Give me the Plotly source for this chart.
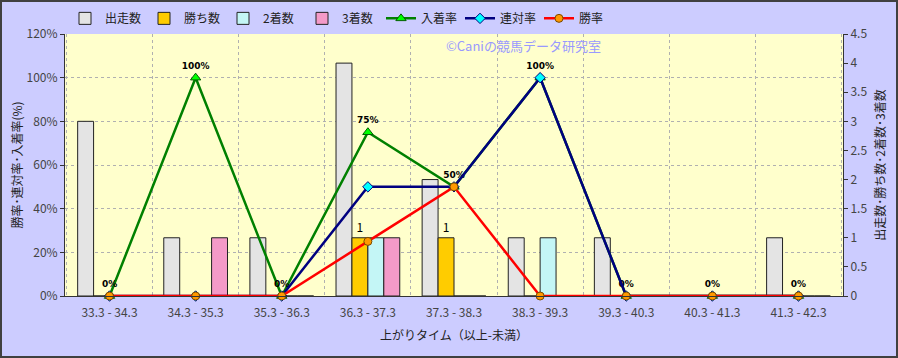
import plotly.graph_objects as go

categories = ["33.3 - 34.3", "34.3 - 35.3", "35.3 - 36.3", "36.3 - 37.3", "37.3 - 38.3",
              "38.3 - 39.3", "39.3 - 40.3", "40.3 - 41.3", "41.3 - 42.3"]
runs = [3, 1, 1, 4, 2, 1, 1, 0, 1]
wins = [0, 0, 0, 1, 1, 0, 0, 0, 0]
seconds = [0, 0, 0, 1, 0, 1, 0, 0, 0]
thirds = [0, 1, 0, 1, 0, 0, 0, 0, 0]
place_rate = [0, 1.00, 0, 0.75, 0.50, 1.00, 0, 0, 0]
quinella_rate = [0, 0, 0, 0.50, 0.50, 1.00, 0, 0, 0]
win_rate = [0, 0, 0, 0.25, 0.50, 0, 0, 0, 0]

FONT = "Noto Sans CJK JP"
fig = go.Figure()

bar_specs = [
    ("出走数", runs, "#E4E4E4"),
    ("勝ち数", wins, "#FFCC00"),
    ("2着数", seconds, "#C4F6F6"),
    ("3着数", thirds, "#F49AC8"),
]
for name, vals, color in bar_specs:
    txt = [str(v) if (name == "勝ち数" and v) else "" for v in vals]
    fig.add_trace(go.Bar(
        x=categories, y=vals, name=name, yaxis="y",
        marker=dict(color=color, line=dict(color="#222222", width=1)),
        text=txt, textposition="outside", cliponaxis=False,
        textfont=dict(family=FONT, size=12, color="#000000"),
    ))

fig.add_trace(go.Scatter(
    x=categories, y=place_rate, name="入着率", yaxis="y2",
    mode="lines+markers+text",
    line=dict(color="#008000", width=2.5),
    marker=dict(symbol="triangle-up", size=9, color="#00FF00", line=dict(color="#006000", width=1)),
    text=[f"<b>{round(v*100)}%</b>" for v in place_rate], textposition="top center",
    textfont=dict(family="DejaVu Sans", size=9, color="#000000"),
    cliponaxis=False,
))
fig.add_trace(go.Scatter(
    x=categories, y=quinella_rate, name="連対率", yaxis="y2",
    mode="lines+markers",
    line=dict(color="#000080", width=2.5),
    marker=dict(symbol="diamond", size=8, color="#00FFFF", line=dict(color="#000080", width=1)),
    cliponaxis=False,
))
fig.add_trace(go.Scatter(
    x=categories, y=win_rate, name="勝率", yaxis="y2",
    mode="lines+markers",
    line=dict(color="#FF0000", width=2.5),
    marker=dict(symbol="circle", size=8, color="#FF9900", line=dict(color="#7A4A00", width=1)),
    cliponaxis=False,
))

axis_font = dict(family=FONT, size=12, color="#444444")
fig.update_layout(
    width=898, height=358,
    margin=dict(l=65, r=55, t=34, b=62, autoexpand=False),
    paper_bgcolor="#CCCCFF",
    plot_bgcolor="#FFFFCC",
    barmode="group", bargap=0.26, bargroupgap=0,
    font=dict(family=FONT, size=11, color="#222222"),
    showlegend=True,
    legend=dict(orientation="h", x=0.0, y=1.115, xanchor="left", yanchor="top",
                font=dict(family=FONT, size=12, color="#222222"),
                bgcolor="rgba(0,0,0,0)", itemwidth=30, tracegroupgap=0,
                entrywidth=34, entrywidthmode="pixels"),
    xaxis=dict(
        type="category", tickson="boundaries",
        showgrid=True, gridcolor="#B0B0B0", griddash="dot", gridwidth=1,
        showline=True, linecolor="#333333", linewidth=1,
        ticks="", tickfont=axis_font, ticklabelstandoff=6,
        title=dict(text="上がりタイム（以上-未満）", font=dict(family=FONT, size=12, color="#222222"), standoff=12),
    ),
    yaxis=dict(
        side="right", range=[0, 4.5], dtick=0.5,
        showgrid=False, zeroline=False,
        showline=True, linecolor="#333333", linewidth=1,
        ticks="outside", ticklen=4, tickcolor="#333333", tickfont=axis_font,
        title=dict(text="出走数･勝ち数･2着数･3着数", font=dict(family=FONT, size=12, color="#222222"), standoff=10),
    ),
    yaxis2=dict(
        side="left", overlaying="y", range=[0, 1.2], dtick=0.2, tickformat=".0%",
        showgrid=True, gridcolor="#B0B0B0", griddash="dot", gridwidth=1, zeroline=False,
        showline=True, linecolor="#333333", linewidth=1,
        ticks="outside", ticklen=4, tickcolor="#333333", tickfont=axis_font,
        title=dict(text="勝率･連対率･入着率(%)", font=dict(family=FONT, size=12, color="#222222"), standoff=1),
    ),
)

fig.add_annotation(
    text="©Caniの競馬データ研究室", xref="paper", yref="paper",
    x=0.487, y=0.955, xanchor="left", yanchor="middle", showarrow=False,
    font=dict(family=FONT, size=13, color="#9999FF"),
)

fig.add_shape(type="rect", xref="paper", yref="paper",
              x0=-64/778, x1=1+54/778, y0=-61/262, y1=1+33/262,
              line=dict(color="#404040", width=2), layer="above")

fig.write_html("out.html", config={"displayModeBar": False},
               post_script="document.body.style.margin='0';document.body.style.overflow='hidden';")
